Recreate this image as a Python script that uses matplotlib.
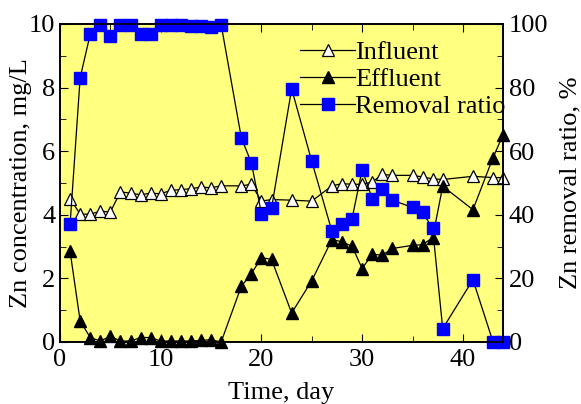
import numpy as np
import matplotlib
matplotlib.use('Agg')
from matplotlib import pyplot as plt
from matplotlib.ticker import MultipleLocator

plt.rcParams['font.family'] = ['Liberation Serif', 'DejaVu Serif']
plt.rcParams['mathtext.fontset'] = 'stix'

# data
day = [1, 2, 3, 4, 5, 6, 7, 8, 9, 10, 11, 12, 13, 14, 15, 16,
       18, 19, 20, 21, 23, 25, 27, 28, 29, 30, 31, 32, 33, 35, 36, 37, 38, 41, 43, 44]
influent = [4.51, 4.02, 4.02, 4.11, 4.09, 4.72, 4.68, 4.63, 4.68, 4.66, 4.77, 4.79, 4.82, 4.87, 4.85, 4.91,
            4.91, 4.96, 4.43, 4.48, 4.46, 4.43, 4.91, 4.98, 4.96, 4.96, 5.03, 5.27, 5.24, 5.24, 5.19, 5.13,
            5.11, 5.21, 5.17, 5.17]
effluent = [2.85, 0.66, 0.14, 0.03, 0.18, 0.03, 0.03, 0.14, 0.14, 0.03, 0.03, 0.03, 0.03, 0.05, 0.07, 0.0,
            1.75, 2.15, 2.65, 2.6, 0.91, 1.93, 3.22, 3.15, 3.01, 2.31, 2.76, 2.73, 2.94, 3.04, 3.06, 3.28,
            4.9, 4.16, 5.8, 6.52]
removal = [37.0, 83.1, 96.8, 99.8, 96.2, 99.8, 99.8, 97.0, 96.9, 99.8, 99.8, 99.6, 99.5, 99.3, 98.9, 99.8,
           64.3, 56.3, 40.4, 42.0, 79.6, 56.8, 34.8, 37.0, 38.8, 54.2, 45.1, 48.0, 44.6, 42.3, 40.8, 35.7,
           4.2, 19.6, 0.0, 0.0]

fs = 19

fig = plt.figure(figsize=(5.81, 4.04), dpi=100)
ax = fig.add_axes([0.1033, 0.1535, 0.7627, 0.7871])
ax.set_facecolor('#ffff80')

l1, = ax.plot(day, influent, '-^', color='black', lw=0.9, mfc='white', mec='black', ms=9, mew=0.9)
l2, = ax.plot(day, effluent, '-^', color='black', lw=0.9, mfc='black', mec='black', ms=9)
ax.set_xlim(0, 44)
ax.set_ylim(0, 10)
ax.xaxis.set_major_locator(MultipleLocator(10))
ax.xaxis.set_minor_locator(MultipleLocator(5))
ax.yaxis.set_major_locator(MultipleLocator(2))
ax.yaxis.set_minor_locator(MultipleLocator(1))
ax.tick_params(which='both', direction='in', top=True, labelsize=fs)
ax.tick_params(axis='x', pad=5)
ax.tick_params(axis='y', pad=3.5)
ax.tick_params(which='major', length=6)
ax.tick_params(which='minor', length=4)
ax.set_xlabel('Time, day', fontsize=fs, labelpad=8)
ax.set_ylabel('Zn concentration, mg/L', fontsize=fs, labelpad=-2)

ax2 = ax.twinx()
l3, = ax2.plot(day, removal, '-s', color='black', lw=0.9, mfc='#0000ff', mec='#0000ff', ms=8.5)
ax2.set_ylim(0, 100)
ax2.yaxis.set_major_locator(MultipleLocator(20))
ax2.yaxis.set_minor_locator(MultipleLocator(10))
ax2.tick_params(which='both', direction='in', labelsize=fs, pad=4)
ax2.tick_params(which='major', length=6)
ax2.tick_params(which='minor', length=4)
ax2.set_ylabel('Zn removal ratio, %', fontsize=fs, labelpad=8)
for a in (ax, ax2):
    for s in a.spines.values():
        s.set_linewidth(1.2)
for l in (l1, l2, l3):
    l.set_clip_on(False)

ax2.legend([l1, l2, l3], ['Influent', 'Effluent', 'Removal ratio'], loc='upper left',
           bbox_to_anchor=(300 / 581, 1 - 41 / 404), bbox_transform=fig.transFigure,
           frameon=False, fontsize=fs, handlelength=2.1, handletextpad=0.0,
           labelspacing=0.12, borderaxespad=0, borderpad=0)

fig.savefig('out.png', dpi=100)
